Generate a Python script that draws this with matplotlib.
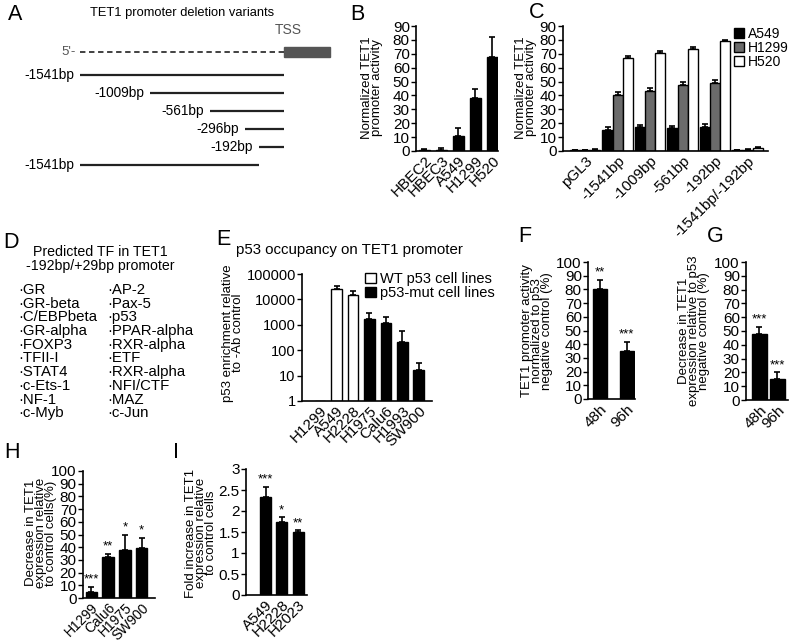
import numpy as np
import matplotlib
matplotlib.use("Agg")
import matplotlib.pyplot as plt
from matplotlib.patches import Patch, Rectangle
from matplotlib.ticker import FixedLocator, FuncFormatter

plt.rcParams["font.family"] = ["Liberation Sans", "DejaVu Sans"]

# ---- data ----
# A: promoter deletion constructs (bp relative to TSS)
a_labels = ["-1541bp", "-1009bp", "-561bp", "-296bp", "-192bp", "-1541bp"]
a_starts = [-1541, -1009, -561, -296, -192, -1541]
a_ends = [0, 0, 0, 0, 0, -192]

# B: promoter activity per cell line
b_lines = ["HBEC2", "HBEC3", "A549", "H1299", "H520"]
b_vals = [0.8, 0.8, 11, 38, 68]
b_errs = [0.6, 1.2, 5.5, 7, 14]

# C: deletion constructs x cell line
c_constructs = ["pGL3", "-1541bp", "-1009bp", "-561bp", "-192bp", "-1541bp/-192bp"]
c_a549 = [0.5, 15, 17, 16.5, 17.5, 0.5]
c_a549_err = [0.4, 2, 2, 1.5, 2, 0.3]
c_h1299 = [0.6, 40, 43, 47.5, 49, 0.8]
c_h1299_err = [0.3, 2.5, 2.2, 2, 2.2, 0.4]
c_h520 = [1.0, 67, 70.5, 73.5, 79, 2.0]
c_h520_err = [0.8, 1.5, 1.5, 1.2, 1.2, 0.8]

# D: predicted transcription factors
d_left = ["GR", "GR-beta", "C/EBPbeta", "GR-alpha", "FOXP3", "TFII-I", "STAT4",
          "c-Ets-1", "NF-1", "c-Myb"]
d_right = ["AP-2", "Pax-5", "p53", "PPAR-alpha", "RXR-alpha", "ETF", "RXR-alpha",
           "NFI/CTF", "MAZ", "c-Jun"]

# E: p53 ChIP enrichment
e_lines = ["H1299", "A549", "H2228", "H1975", "Calu6", "H1993", "SW900"]
e_vals = [1, 25000, 15000, 1700, 1200, 220, 16]
e_errs = [0, 10000, 7000, 1300, 900, 330, 16]
e_wt = [False, True, True, False, False, False, False]

# F / G: p53 knockdown time course
fg_times = ["48h", "96h"]
f_vals = [80, 35]
f_errs = [7, 6.5]
f_stars = ["**", "***"]
g_vals = [47.5, 15]
g_errs = [5.5, 5]
g_stars = ["***", "***"]

# H: decrease in TET1 expression
h_lines = ["H1299", "Calu6", "H1975", "SW900"]
h_vals = [5, 32, 37.5, 39]
h_errs = [3.5, 2.5, 12, 8.5]
h_stars = ["***", "**", "*", "*"]

# I: fold increase in TET1 expression
i_lines = ["A549", "H2228", "H2023"]
i_vals = [2.33, 1.75, 1.5]
i_errs = [0.25, 0.1, 0.04]
i_stars = ["***", "*", "**"]

W, H = 800, 643
TICK_FS = 11
LABEL_FS = 9.5
GRAY = "#6b6b6b"


def px_axes(fig, x0, y0, x1, y1):
    return fig.add_axes([x0 / W, 1 - y1 / H, (x1 - x0) / W, (y1 - y0) / H])


def fig_text(fig, x, y, s, **kw):
    return fig.text(x / W, 1 - y / H, s, **kw)


def ylabel_px(fig, x, y, s, fs=LABEL_FS):
    fig_text(fig, x, y, s, rotation=90, ha="center", va="center",
             fontsize=fs, linespacing=0.82, multialignment="center")


def style_axes(ax, tick_fs=TICK_FS, xtick_fs=11):
    for side in ("top", "right"):
        ax.spines[side].set_visible(False)
    for side in ("left", "bottom"):
        ax.spines[side].set_linewidth(1.2)
    ax.tick_params(axis="y", direction="out", length=3.5, width=1.0,
                   labelsize=tick_fs, pad=1)
    ax.tick_params(axis="x", length=0, labelsize=xtick_fs, pad=2)


def rotate_xlabels(ax, labels):
    ax.set_xticks(np.arange(len(labels)))
    ax.set_xticklabels(labels, rotation=45, ha="right", rotation_mode="anchor")


def bars_with_err(ax, x, vals, errs, width, color="black"):
    ax.bar(x, vals, width, color=color, edgecolor="black", linewidth=1.0, zorder=2)
    ax.errorbar(x, vals, yerr=[np.zeros(len(errs)), errs], fmt="none",
                ecolor="black", elinewidth=1.2, capsize=2.2, capthick=1.2, zorder=3)


def add_stars(ax, vals, errs, stars, pad):
    for xi, (v, e, s) in enumerate(zip(vals, errs, stars)):
        ax.text(xi, v + e + pad, s, ha="center", va="bottom", fontsize=9.5)


def simple_bar_panel(ax, labels, vals, errs, width, xlim, ylim, yticks,
                     stars=None, pad=1.0, xtick_fs=11):
    x = np.arange(len(labels))
    bars_with_err(ax, x, vals, errs, width)
    if stars:
        add_stars(ax, vals, errs, stars, pad)
    ax.set_xlim(*xlim)
    ax.set_ylim(*ylim)
    ax.set_yticks(yticks)
    rotate_xlabels(ax, labels)
    style_axes(ax, xtick_fs=xtick_fs)


fig = plt.figure(figsize=(W / 100, H / 100), dpi=100)

# ---------------- A: schematic ----------------
axA = px_axes(fig, 80, 40, 284, 175)
axA.set_xlim(-1541, 0)
axA.set_ylim(5.556, -1.944)
axA.axis("off")
for row, (lab, s, e) in enumerate(zip(a_labels, a_starts, a_ends)):
    axA.plot([s, e], [row, row], color="#222222", lw=1.6, clip_on=False,
             solid_capstyle="butt")
    axA.annotate(lab, xy=(s, row), xytext=(-4, 0), textcoords="offset points",
                 ha="right", va="center", fontsize=9.8)
axA.plot([-1541, 0], [-1.28, -1.28], color="#333333", lw=1.3, ls=(0, (3, 2)),
         clip_on=False)
axA.add_patch(Rectangle((0, -1.56), 350, 0.56, color="#555555", clip_on=False))
axA.annotate("5'-", xy=(-1541, -1.28), xytext=(-3, 0), textcoords="offset points",
             ha="right", va="center", fontsize=9.5, color="#555555")
axA.text(30, -2.1, "TSS", ha="center", va="bottom", fontsize=10, color="#555555")
fig_text(fig, 182, 13, "TET1 promoter deletion variants", ha="center",
         va="center", fontsize=9.3)

# ---------------- B ----------------
axB = px_axes(fig, 416, 26, 498, 151)
simple_bar_panel(axB, b_lines, b_vals, b_errs, 0.65, (-0.5, 4.33), (0, 90),
                 np.arange(0, 91, 10))
ylabel_px(fig, 372, 88, "Normalized TET1\npromoter activity")

# ---------------- C ----------------
axC = px_axes(fig, 563, 26, 768, 151)
xc = np.arange(len(c_constructs))
bw = 0.31
bars_with_err(axC, xc - bw, c_a549, c_a549_err, bw, color="black")
bars_with_err(axC, xc, c_h1299, c_h1299_err, bw, color=GRAY)
bars_with_err(axC, xc + bw, c_h520, c_h520_err, bw, color="white")
axC.set_xlim(-0.68, 5.63)
axC.set_ylim(0, 90)
axC.set_yticks(np.arange(0, 91, 10))
rotate_xlabels(axC, c_constructs)
style_axes(axC)
ylabel_px(fig, 526, 88, "Normalized TET1\npromoter activity")
c_handles = [Patch(facecolor=c, edgecolor="black", lw=1.0)
             for c in ("black", GRAY, "white")]
fig.legend(c_handles, ["A549", "H1299", "H520"], loc="upper left",
           bbox_to_anchor=(734 / W, 1 - 27 / H), frameon=False,
           fontsize=10, handlelength=0.75, handleheight=0.75,
           handletextpad=0.25, labelspacing=0.0, borderpad=0, borderaxespad=0)

# ---------------- D: text list ----------------
fig_text(fig, 100, 259, "Predicted TF in TET1\n-192bp/+29bp promoter", ha="center",
         va="center", fontsize=10.2, linespacing=1.0)
for k, (l, r) in enumerate(zip(d_left, d_right)):
    y = 290 + 13.7 * k
    fig_text(fig, 18, y, "\u00b7" + l, ha="left", va="center", fontsize=10.8)
    fig_text(fig, 107, y, "\u00b7" + r, ha="left", va="center", fontsize=10.8)

# ---------------- E ----------------
axE = px_axes(fig, 302, 274, 432, 401)
xe = np.arange(len(e_lines))
e_colors = ["white" if wt else "black" for wt in e_wt]
axE.bar(xe, np.array(e_vals) - 1, 0.65, bottom=1, color=e_colors,
        edgecolor="black", linewidth=1.0, zorder=2)
has_err = np.array(e_errs) > 0
axE.errorbar(xe[has_err], np.array(e_vals)[has_err],
             yerr=[np.zeros(has_err.sum()), np.array(e_errs)[has_err]],
             fmt="none", ecolor="black", elinewidth=1.2, capsize=2.2,
             capthick=1.2, zorder=3)
axE.set_yscale("log")
axE.set_ylim(1, 100000)
axE.yaxis.set_major_locator(FixedLocator([1, 10, 100, 1000, 10000, 100000]))
axE.yaxis.set_minor_locator(FixedLocator([]))
axE.yaxis.set_major_formatter(FuncFormatter(lambda v, p: f"{int(round(v))}"))
axE.set_xlim(-1.1, 6.8)
rotate_xlabels(axE, e_lines)
style_axes(axE, tick_fs=10.5)
ylabel_px(fig, 233, 333, "p53 enrichment relative\nto -Ab control")
fig_text(fig, 349, 250, "p53 occupancy on TET1 promoter", ha="center",
         va="center", fontsize=10.8)
e_handles = [Patch(facecolor="white", edgecolor="black", lw=1.0),
             Patch(facecolor="black", edgecolor="black", lw=1.0)]
fig.legend(e_handles, ["WT p53 cell lines", "p53-mut cell lines"],
           loc="upper left", bbox_to_anchor=(365 / W, 1 - 272 / H),
           frameon=False, fontsize=10.5, handlelength=0.75, handleheight=0.75,
           handletextpad=0.3, labelspacing=0.0, borderpad=0, borderaxespad=0)

# ---------------- F ----------------
axF = px_axes(fig, 588, 262, 635, 399)
simple_bar_panel(axF, fg_times, f_vals, f_errs, 0.52, (-0.44, 1.3), (0, 100),
                 np.arange(0, 101, 10), stars=f_stars)
ylabel_px(fig, 537, 331, "TET1 promoter activity\nnormalized to p53\nnegative control (%)")

# ---------------- G ----------------
axG = px_axes(fig, 746, 262, 788, 400)
simple_bar_panel(axG, fg_times, g_vals, g_errs, 0.82, (-0.75, 1.6), (0, 100),
                 np.arange(0, 101, 10), stars=g_stars)
ylabel_px(fig, 694, 331, "Decrease in TET1\nexpression relative to p53\nnegative control (%)")

# ---------------- H ----------------
axH = px_axes(fig, 83, 471, 155, 598)
simple_bar_panel(axH, h_lines, h_vals, h_errs, 0.7, (-0.5, 3.8), (0, 100),
                 np.arange(0, 101, 10), stars=h_stars, xtick_fs=10)
ylabel_px(fig, 41, 533, "Decrease in TET1\nexpression relative\nto control cells(%)")

# ---------------- I ----------------
axI = px_axes(fig, 246, 469, 307, 595)
simple_bar_panel(axI, i_lines, i_vals, i_errs, 0.68, (-1.2, 2.55), (0, 3),
                 [0, 0.5, 1, 1.5, 2, 2.5, 3], stars=i_stars, pad=0.03)
axI.yaxis.set_major_formatter(FuncFormatter(lambda v, p: f"{v:g}"))
ylabel_px(fig, 201, 533, "Fold increase in TET1\nexpression relative\nto control cells")

# ---------------- panel letters ----------------
for letter, (lx, ly) in {"A": (15, 14), "B": (357, 15), "C": (537, 13),
                         "D": (11, 243), "E": (223, 239), "F": (525, 237),
                         "G": (715, 237), "H": (12, 453), "I": (176, 453)}.items():
    fig_text(fig, lx, ly, letter, ha="center", va="center", fontsize=15.5)

fig.savefig("out.png", dpi=100)
